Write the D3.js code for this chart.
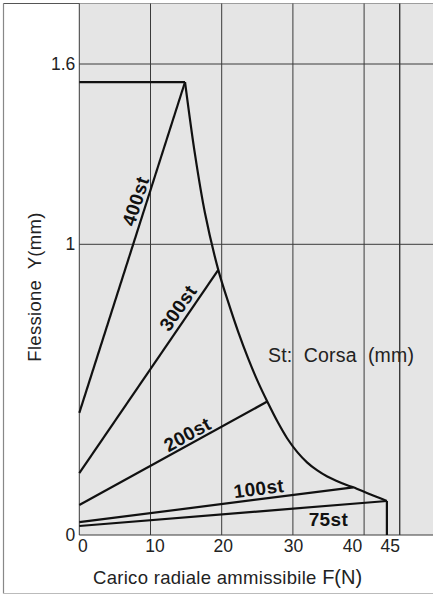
<!DOCTYPE html>
<html>
<head>
<meta charset="utf-8">
<script src="https://cdn.jsdelivr.net/npm/d3@7"></script>
<style>
  body { margin: 0; background: #fff; }
  svg { display: block; font-family: "Liberation Sans", Arial, Helvetica, sans-serif; }
</style>
</head>
<body>
<script>
// tick values
const xTicks = [0, 10, 20, 30, 40, 45];
const yTicks = [0, 1, 1.6];

// stroke curves: straight lines from F=0 up to the limit curve
const strokes = ["400st", "300st", "200st", "100st", "75st"];
const startY = [0.42, 0.213, 0.103, 0.044, 0.031];
const endX = [14.85, 19.52, 26.4, 38.48, 43.2];
const endY = [1.54, 0.912, 0.459, 0.164, 0.117];

// flat top limit
const flatX = [0, 14.85];
const flatY = [1.54, 1.54];

// envelope (limit) curve, then the drop to zero
const envX = [14.85, 16.25, 17.65, 19.52, 20.93, 22.33, 23.74, 25.14, 26.4, 27.81, 29.21, 30.62, 32.02, 33.43, 34.83, 36.24, 37.64, 38.48, 40.83, 43.2];
const envY = [1.54, 1.299, 1.104, 0.912, 0.8, 0.698, 0.606, 0.524, 0.459, 0.391, 0.332, 0.285, 0.249, 0.222, 0.201, 0.185, 0.171, 0.164, 0.14, 0.117];
const dropX = [43.2, 43.2];
const dropY = [0.117, 0];

function main(){
    const width = 433;
    const height = 595;

    const svg = d3.select("body").append("svg")
        .attr("width", width)
        .attr("height", height);

    const x = d3.scaleLinear().domain([0, 50]).range([79.3, 435.3]);
    // scanned chart: grid spacing is not perfectly even, so piecewise
    const y = d3.scaleLinear().domain([0, 1, 1.6, 1.8]).range([535, 244.3, 64, 3.5]);

    // outer frame
    svg.append("line").attr("x1", 3.5).attr("x2", 3.5).attr("y1", 3.5).attr("y2", 593.5)
        .attr("stroke", "#888").attr("stroke-width", 1.2);
    svg.append("line").attr("x1", 3.5).attr("x2", width).attr("y1", 593.5).attr("y2", 593.5)
        .attr("stroke", "#bbb").attr("stroke-width", 1);
    svg.append("line").attr("x1", 3.5).attr("x2", width).attr("y1", 3.5).attr("y2", 3.5)
        .attr("stroke", "#555").attr("stroke-width", 1.2);

    // plot background
    svg.append("rect")
        .attr("x", x(0)).attr("y", y(1.8))
        .attr("width", width - x(0)).attr("height", y(0) - y(1.8))
        .attr("fill", "#e5e5e5");

    // grid
    svg.selectAll(".vgrid").data(xTicks).enter().append("line")
        .attr("class", "vgrid")
        .attr("x1", d => x(d)).attr("x2", d => x(d))
        .attr("y1", y(1.8)).attr("y2", y(0))
        .attr("stroke", "#3a3a3a").attr("stroke-width", d => d == 45 ? 1.4 : 1);
    svg.selectAll(".hgrid").data(yTicks).enter().append("line")
        .attr("class", "hgrid")
        .attr("x1", x(0)).attr("x2", width)
        .attr("y1", d => y(d)).attr("y2", d => y(d))
        .attr("stroke", "#3a3a3a").attr("stroke-width", 1);

    // axes (labels only)
    const yAxis = svg.append("g")
        .attr("transform", `translate(${x(0)},0)`)
        .call(d3.axisLeft(y).tickValues(yTicks).tickSize(0).tickPadding(4).tickFormat(d3.format("")));
    const xAxis = svg.append("g")
        .attr("transform", `translate(0,${y(0)})`)
        .call(d3.axisBottom(x).tickValues(xTicks).tickSize(0).tickPadding(5));
    [xAxis, yAxis].forEach(g => {
        g.select(".domain").remove();
        g.selectAll("text")
            .attr("font-family", "Liberation Sans, Arial, sans-serif")
            .attr("font-size", 17.5)
            .attr("fill", "#222");
    });
    const xNudge = {0: 3, 10: 4, 20: 1, 30: 0, 40: -12, 45: -10};
    xAxis.selectAll("text").attr("dx", d => xNudge[d]);

    // curves
    const line = d3.line().x(d => x(d[0])).y(d => y(d[1]));
    const curve = d3.line().x(d => x(d[0])).y(d => y(d[1])).curve(d3.curveCatmullRom.alpha(0.5));

    const lines = svg.append("g")
        .attr("fill", "none")
        .attr("stroke", "#111")
        .attr("stroke-width", 2.2)
        .attr("stroke-linejoin", "round");

    lines.append("path").attr("d", line(flatX.map((v, i) => [v, flatY[i]])));
    lines.append("path").attr("d", curve(envX.map((v, i) => [v, envY[i]])));
    lines.append("path").attr("d", line(dropX.map((v, i) => [v, dropY[i]])));

    strokes.forEach((s, i) => {
        lines.append("path").attr("d", line([[0, startY[i]], [endX[i], endY[i]]]));
    });

    // stroke labels along their lines
    const labelT = [0.63, 0.78, 0.6, 0.66, 0.81];
    const labelOff = [11, 12, 10, 11, -13];
    strokes.forEach((s, i) => {
        const x0 = x(0), y0 = y(startY[i]);
        const x1 = x(endX[i]), y1 = y(endY[i]);
        const rotate = s != "75st";
        const a = rotate ? Math.atan2(y1 - y0, x1 - x0) : 0;
        const px = x0 + labelT[i] * (x1 - x0) + labelOff[i] * Math.sin(a);
        const py = y0 + labelT[i] * (y1 - y0) - labelOff[i] * Math.cos(a);
        svg.append("text")
            .attr("transform", `translate(${px},${py}) rotate(${a * 180 / Math.PI})`)
            .attr("text-anchor", "middle")
            .attr("dy", "0.36em")
            .attr("font-size", 19)
            .attr("font-weight", "bold")
            .attr("letter-spacing", 0.4)
            .attr("fill", "#111")
            .text(s);
    });

    // legend note
    svg.append("text")
        .attr("x", 268).attr("y", 362)
        .attr("xml:space", "preserve")
        .style("white-space", "pre")
        .attr("font-size", 19.5)
        .attr("letter-spacing", 0.2)
        .attr("fill", "#222")
        .text("St:  Corsa  (mm)");

    // axis titles
    const xt = svg.append("text")
        .attr("x", 93).attr("y", 584)
        .attr("xml:space", "preserve")
        .style("white-space", "pre")
        .attr("font-size", 18.5)
        .attr("letter-spacing", 0.3)
        .attr("fill", "#222");
    xt.append("tspan").text("Carico radiale ammissibile ");
    xt.append("tspan").attr("font-size", 20).attr("letter-spacing", 0).text("F(N)");

    svg.append("text")
        .attr("transform", "translate(41,287) rotate(-90)")
        .attr("text-anchor", "middle")
        .attr("xml:space", "preserve")
        .style("white-space", "pre")
        .attr("font-size", 18.5)
        .attr("letter-spacing", 0.3)
        .attr("fill", "#222")
        .text("Flessione  Y(mm)");
}
main();
</script>
</body>
</html>
